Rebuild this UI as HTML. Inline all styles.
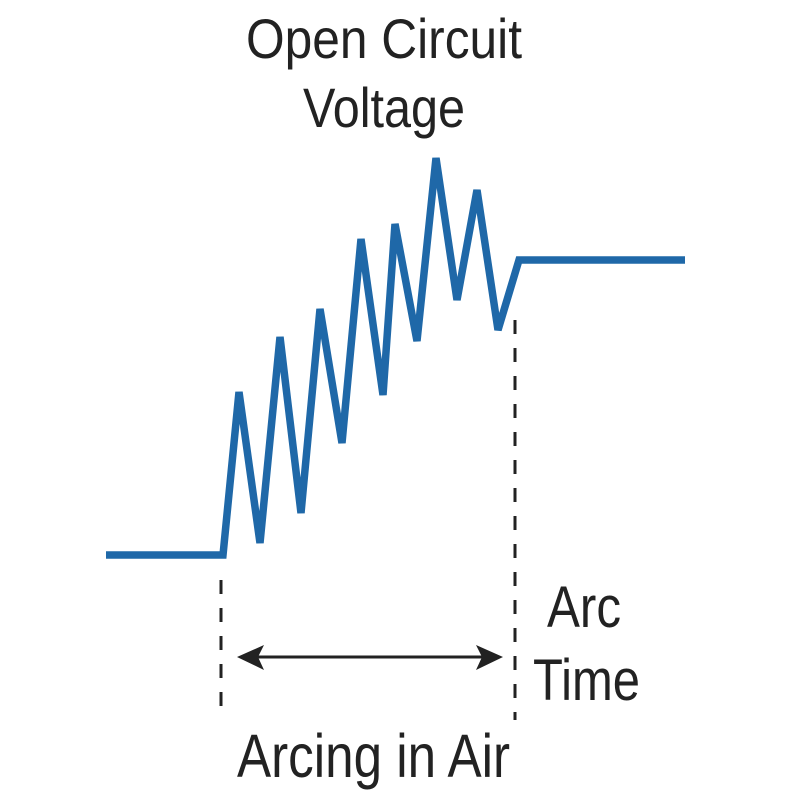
<!DOCTYPE html>
<html><head><meta charset="utf-8"><style>html,body{margin:0;padding:0;background:#fff}</style></head>
<body>
<svg width="800" height="800" viewBox="0 0 800 800" xmlns="http://www.w3.org/2000/svg">
<rect width="800" height="800" fill="#fff"/>
<g font-family="'Liberation Sans Narrow','Liberation Sans',sans-serif" fill="#222">
<text x="246" y="58" font-size="56" textLength="276" lengthAdjust="spacingAndGlyphs">Open Circuit</text>
<text x="303" y="127" font-size="56" textLength="162" lengthAdjust="spacingAndGlyphs">Voltage</text>
<text x="547" y="627" font-size="58" textLength="74" lengthAdjust="spacingAndGlyphs">Arc</text>
<text x="533" y="700" font-size="58" textLength="107" lengthAdjust="spacingAndGlyphs">Time</text>
<text x="237" y="777" font-size="61" textLength="273" lengthAdjust="spacingAndGlyphs">Arcing in Air</text>
</g>
<polyline fill="none" stroke="#1f68a8" stroke-width="7.5" stroke-linejoin="miter" stroke-miterlimit="3"
points="106,555 223,555 239,392 260,543 280,337 301,513 320,309 342,443 361,239 383,395 395,224 417,341 436,158 457,300 477,190 498,330 519,260 685,260"/>
<g stroke="#222" stroke-width="3" stroke-dasharray="14,14">
<line x1="221" y1="580" x2="221" y2="720"/>
<line x1="515" y1="320" x2="515" y2="720"/>
</g>
<line x1="250" y1="657" x2="488" y2="657" stroke="#222" stroke-width="3"/>
<polygon points="237,657 264,645 258,657 264,670" fill="#222"/>
<polygon points="503,657 476,645 482,657 476,670" fill="#222"/>
</svg>
</body></html>
